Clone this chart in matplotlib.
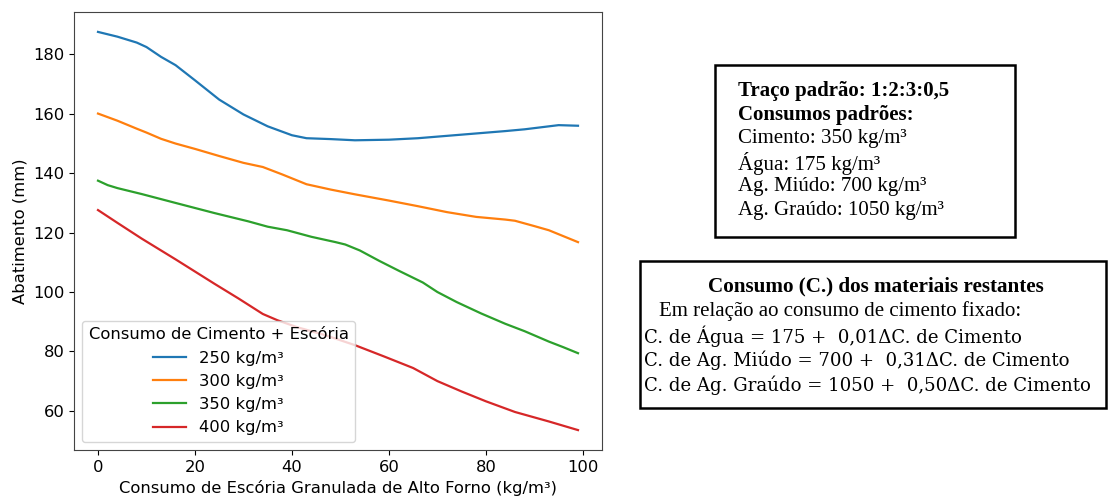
import matplotlib
matplotlib.use("Agg")
import matplotlib.pyplot as plt
from matplotlib.patches import Rectangle

# Slump (mm) versus blast-furnace slag content, one curve per binder content
x_250 = [0, 4, 8, 10, 13, 16, 20, 25, 30, 35, 40, 43, 48, 53, 60, 66, 72, 78, 84, 88, 92, 95, 97, 99]
y_250 = [187.6, 186.0, 184.0, 182.5, 179.2, 176.4, 171.3, 164.8, 159.8, 155.8, 152.8, 151.8,
         151.5, 151.1, 151.3, 151.8, 152.6, 153.4, 154.2, 154.8, 155.6, 156.2, 156.1, 156.0]

x_300 = [0, 4, 8, 10, 13, 16, 20, 25, 30, 34, 38, 43, 48, 53, 60, 66, 72, 78, 84, 86, 90, 93, 96, 99]
y_300 = [160.1, 157.7, 155.0, 153.7, 151.6, 150.0, 148.2, 145.8, 143.5, 142.1, 139.6, 136.3,
         134.5, 132.9, 130.8, 128.9, 126.9, 125.3, 124.4, 124.0, 122.2, 120.8, 118.8, 116.8]

x_350 = [0, 2, 4, 9, 16, 24, 31, 35, 39, 44, 49, 51, 54, 58, 62, 67, 70, 74, 79, 84, 88, 93, 96, 99]
y_350 = [137.5, 136.0, 135.0, 133.0, 130.0, 126.6, 123.8, 122.0, 120.8, 118.6, 116.8, 116.0,
         114.0, 110.5, 107.2, 103.2, 100.0, 96.6, 92.8, 89.3, 86.8, 83.3, 81.4, 79.4]

x_400 = [0, 4, 9, 16, 24, 29, 34, 37, 41, 47, 53, 59, 65, 70, 75, 80, 86, 93, 99]
y_400 = [127.6, 123.3, 118.0, 111.0, 102.8, 97.8, 92.6, 90.5, 88.2, 85.4, 82.1, 78.3,
         74.4, 70.0, 66.5, 63.2, 59.6, 56.4, 53.5]

series_labels = ["250 kg/m³", "300 kg/m³", "350 kg/m³", "400 kg/m³"]
series_colors = ["#1f77b4", "#ff7f0e", "#2ca02c", "#d62728"]

legend_title = "Consumo de Cimento + Escória"
x_label = "Consumo de Escória Granulada de Alto Forno (kg/m³)"
y_label = "Abatimento (mm)"

box1_bold = ["Traço padrão: 1:2:3:0,5", "Consumos padrões:"]
box1_lines = ["Cimento: 350 kg/m³", "Água: 175 kg/m³", "Ag. Miúdo: 700 kg/m³", "Ag. Graúdo: 1050 kg/m³"]

box2_title = "Consumo (C.) dos materiais restantes"
box2_intro = "Em relação ao consumo de cimento fixado:"
box2_lines = ["C. de Água = 175 +  0,01ΔC. de Cimento",
              "C. de Ag. Miúdo = 700 +  0,31ΔC. de Cimento",
              "C. de Ag. Graúdo = 1050 +  0,50ΔC. de Cimento"]

W, H = 1108, 498
fig = plt.figure(figsize=(W / 100, H / 100), dpi=100)
ax = fig.add_axes([74 / W, 1 - 450 / H, (602 - 74) / W, (450 - 12) / H])

fs = 11.8
for xs, ys, lab, col in zip([x_250, x_300, x_350, x_400], [y_250, y_300, y_350, y_400],
                            series_labels, series_colors):
    ax.plot(xs, ys, color=col, label=lab, lw=1.6)

ax.set_xlabel(x_label, fontsize=fs)
ax.set_ylabel(y_label, fontsize=fs)
ax.tick_params(labelsize=fs)
ax.set_yticks([60, 80, 100, 120, 140, 160, 180])
for s in ax.spines.values():
    s.set_edgecolor("#444444")
leg = ax.legend(title=legend_title, loc="lower left", fontsize=fs, title_fontsize=fs)

# Info boxes on the right
def fig_px(px, py):
    return px / W, 1 - py / H

serif = "Liberation Serif"
b1x, b1y = fig_px(715, 237)
fig.add_artist(Rectangle((b1x, b1y), (1015 - 715) / W, (237 - 65) / H, transform=fig.transFigure,
                         fill=False, edgecolor="black", lw=1.8))
line_y = [91, 115, 139, 163, 187, 211]
for i, t in enumerate(box1_bold + box1_lines):
    tx, ty = fig_px(738, line_y[i])
    fig.text(tx, ty, t, family=serif, fontsize=15, va="center", ha="left",
             weight="bold" if i < 2 else "normal")

b2x, b2y = fig_px(640, 408)
fig.add_artist(Rectangle((b2x, b2y), (1106 - 640) / W, (408 - 261) / H, transform=fig.transFigure,
                         fill=False, edgecolor="black", lw=1.8))
tx, ty = fig_px(876, 286)
fig.text(tx, ty, box2_title, family=serif, fontsize=15.2, weight="bold", va="center", ha="center")
tx, ty = fig_px(659, 311)
fig.text(tx, ty, box2_intro, family=serif, fontsize=15, va="center", ha="left")
for i, t in enumerate(box2_lines):
    tx, ty = fig_px(644, 336 + 24.5 * i)
    fig.text(tx, ty, t, family="DejaVu Serif", fontsize=13.1, va="center", ha="left")

fig.savefig("out.png", dpi=100)
